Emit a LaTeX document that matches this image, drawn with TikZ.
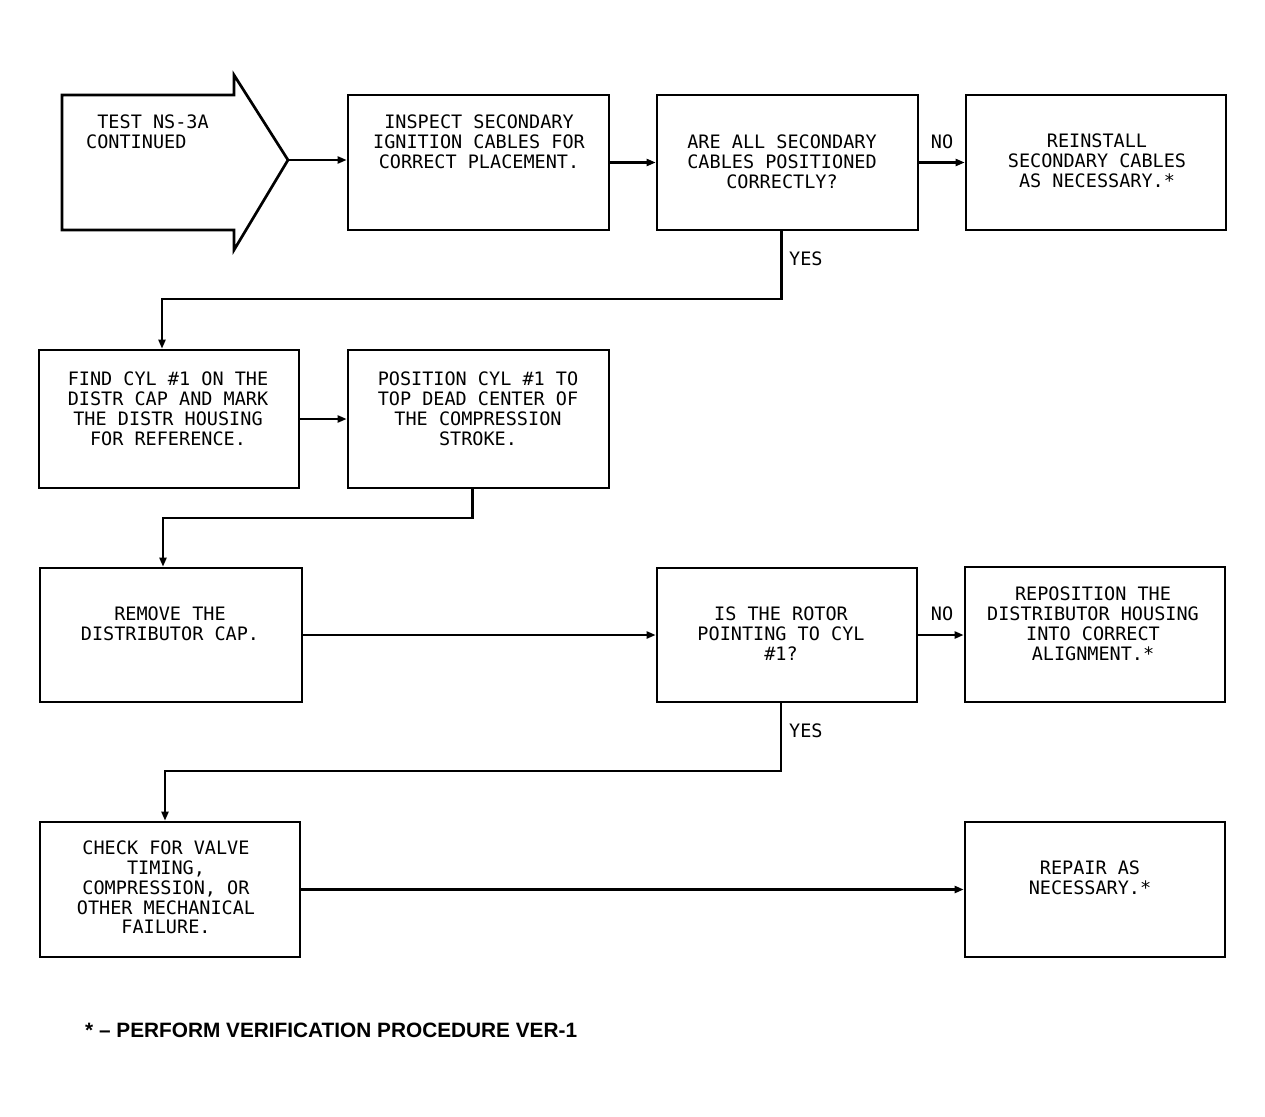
\documentclass[tikz,border=0pt]{standalone}
\usepackage{fontspec}
\newfontfamily\plotfont{DejaVu Sans Mono}
\newfontfamily\notefont{Liberation Sans}
\usetikzlibrary{arrows.meta}
\begin{document}
\begin{tikzpicture}[x=1pt,y=-1pt,
  box/.style={draw, line width=2.7pt, inner sep=0pt, rectangle},
  txt/.style={font=\plotfont\fontsize{18.5}{19.7}\selectfont, align=center, inner sep=0pt, anchor=north},
  lbl/.style={font=\plotfont\fontsize{18.5}{19.7}\selectfont, inner sep=0pt},
  conn/.style={line width=2.2pt, -{Triangle[length=9pt,width=7pt]}}]
\useasboundingbox[fill=white] (0,0) rectangle (1265,1116);

% start arrow shape
\draw[line width=2.7pt, line join=miter] (62,95) -- (234,95) -- (234,75) -- (288,160) -- (234,250) -- (234,230) -- (62,230) -- cycle;
\coordinate (tip) at (288,160);
\node[txt, anchor=north west, align=left] (start-t) at (86,115) {\phantom{T}TEST NS-3A\\CONTINUED};

% boxes
\node[box, minimum width=261pt, minimum height=135pt] (inspect) at (478.5,162.5) {};
\node[box, minimum width=261pt, minimum height=135pt] (are) at (787.5,162.5) {};
\node[box, minimum width=260pt, minimum height=135pt] (reinstall) at (1096,162.5) {};
\node[box, minimum width=260pt, minimum height=138pt] (find) at (169,419) {};
\node[box, minimum width=261pt, minimum height=138pt] (position) at (478.5,419) {};
\node[box, minimum width=262pt, minimum height=134pt] (remove) at (171,635) {};
\node[box, minimum width=260pt, minimum height=134pt] (rotor) at (787,635) {};
\node[box, minimum width=260pt, minimum height=135pt] (reposition) at (1095,634.5) {};
\node[box, minimum width=260pt, minimum height=135pt] (check) at (170,889.5) {};
\node[box, minimum width=260pt, minimum height=135pt] (repair) at (1095,889.5) {};

% texts
\node[txt] (inspect-t) at (479,115) {INSPECT SECONDARY\\IGNITION CABLES FOR\\CORRECT PLACEMENT.};
\node[txt] (are-t) at (782,135) {ARE ALL SECONDARY\\CABLES POSITIONED\\CORRECTLY?};
\node[txt] (reinstall-t) at (1097,134) {REINSTALL\\SECONDARY CABLES\\AS NECESSARY.*};
\node[txt] (find-t) at (168,372) {FIND CYL \#1 ON THE\\DISTR CAP AND MARK\\THE DISTR HOUSING\\FOR REFERENCE.};
\node[txt] (position-t) at (478,372) {POSITION CYL \#1 TO\\TOP DEAD CENTER OF\\THE COMPRESSION\\STROKE.};
\node[txt] (remove-t) at (170,607) {REMOVE THE\\DISTRIBUTOR CAP.};
\node[txt] (rotor-t) at (781,607) {IS THE ROTOR\\POINTING TO CYL\\\#1?};
\node[txt] (reposition-t) at (1093,587) {REPOSITION THE\\DISTRIBUTOR HOUSING\\INTO CORRECT\\ALIGNMENT.*};
\node[txt] (check-t) at (166,841) {CHECK FOR VALVE\\TIMING,\\COMPRESSION, OR\\OTHER MECHANICAL\\FAILURE.};
\node[txt] (repair-t) at (1090,861) {REPAIR AS\\NECESSARY.*};

% connectors
\draw[conn] (tip) -- (tip -| inspect.west);
\draw[conn] (inspect.east) -- (are.west);
\draw[conn] (are.east) -- (reinstall.west);
\node[lbl] (no1) at (942,142) {NO};
\draw[conn] ([xshift=-6pt]are.south) -- ++(0,68) -| ([xshift=-7pt]find.north);
\node[lbl, anchor=west] (yes1) at (789,259) {YES};
\draw[conn] (find.east) -- (position.west);
\draw[conn] ([xshift=-6pt]position.south) -- ++(0,29) -| ([xshift=-8pt]remove.north);
\draw[conn] (remove.east) -- (rotor.west);
\draw[conn] (rotor.east) -- (rotor.east -| reposition.west);
\node[lbl] (no2) at (942,614) {NO};
\draw[conn] ([xshift=-6pt]rotor.south) -- ++(0,68) -| ([xshift=-5pt]check.north);
\node[lbl, anchor=west] (yes2) at (789,731) {YES};
\draw[conn] (check.east) -- (repair.west);

% footnote
\node[anchor=west, inner sep=0pt, font=\notefont\bfseries\fontsize{20.8}{24}\selectfont] (note) at (85,1030) {* – PERFORM VERIFICATION PROCEDURE VER-1};
\end{tikzpicture}
\end{document}
